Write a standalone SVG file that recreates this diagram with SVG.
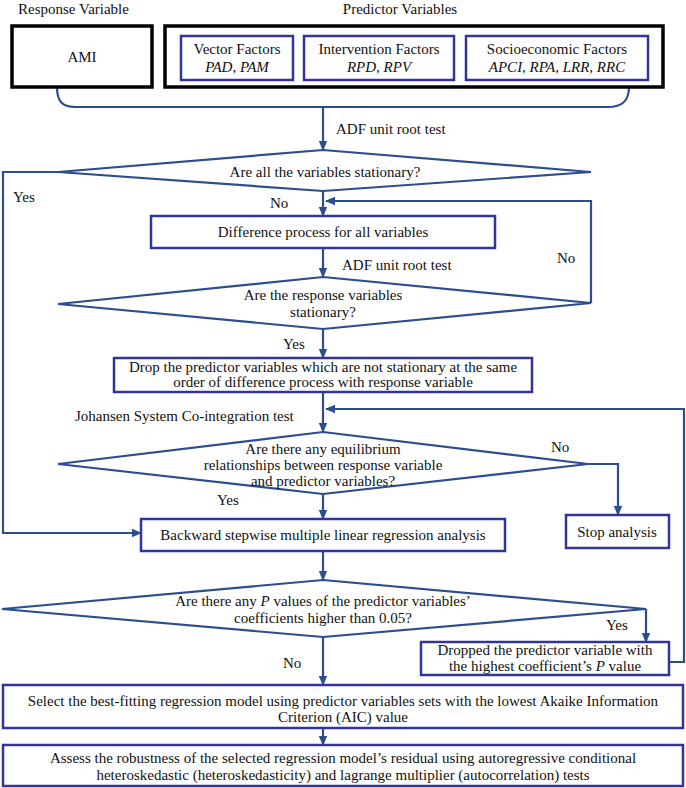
<svg xmlns="http://www.w3.org/2000/svg" width="686" height="788" viewBox="0 0 686 788" font-family="'Liberation Serif', 'Times New Roman', 'DejaVu Serif', serif">
<style>
text{font-family:'Liberation Serif','Times New Roman','DejaVu Serif',serif;font-size:15px;fill:#111;}
.c{text-anchor:middle;}
.it{font-style:italic;}
.outer{fill:#fff;stroke:#000;stroke-width:3.5;}
.box{fill:#fff;stroke:#33349a;stroke-width:2.5;}
.dia{fill:#fff;stroke:#2c4e8e;stroke-width:2.2;}
.ln{fill:none;stroke:#2c4e8e;stroke-width:2.2;}
</style>
<defs>
<marker id="ah" markerUnits="userSpaceOnUse" markerWidth="10" markerHeight="10" refX="9" refY="5" orient="auto">
<path d="M0,0.8 L10,5 L0,9.2 Z" fill="#2c4e8e"/>
</marker>
</defs>
<rect width="686" height="788" fill="#fff"/>

<text x="18" y="14">Response Variable</text>
<text x="400" y="14" class="c">Predictor Variables</text>

<g id="connectors">
<path class="ln" d="M57,87 C57,101 62,107 75,107 L608,107 C622,107 629,101 629,87"/>
<path class="ln" d="M323,107 L323,150" marker-end="url(#ah)"/>
<path class="ln" d="M323,191 L323,216" marker-end="url(#ah)"/>
<path class="ln" d="M591,303 L591,201 L326,201" marker-end="url(#ah)"/>
<path class="ln" d="M323,248 L323,277" marker-end="url(#ah)"/>
<path class="ln" d="M323,329 L323,358" marker-end="url(#ah)"/>
<path class="ln" d="M323,392 L323,432" marker-end="url(#ah)"/>
<path class="ln" d="M58,172 L3,172 L3,533 L141,533" marker-end="url(#ah)"/>
<path class="ln" d="M588,464 L618,464 L618,515" marker-end="url(#ah)"/>
<path class="ln" d="M323,494 L323,519" marker-end="url(#ah)"/>
<path class="ln" d="M323,551 L323,580" marker-end="url(#ah)"/>
<path class="ln" d="M646,609 L646,642" marker-end="url(#ah)"/>
<path class="ln" d="M669,662 L684,662 L684,409 L326,409" marker-end="url(#ah)"/>
<path class="ln" d="M323,637 L323,685" marker-end="url(#ah)"/>
<path class="ln" d="M323,728 L323,745" marker-end="url(#ah)"/>
<text x="336" y="134">ADF unit root test</text>
<text x="13" y="202">Yes</text>
<text x="270" y="208">No</text>
<text x="557" y="263">No</text>
<text x="342" y="270">ADF unit root test</text>
<text x="283" y="349">Yes</text>
<text x="75" y="421">Johansen System Co-integration test</text>
<text x="551" y="452">No</text>
<text x="217" y="505">Yes</text>
<text x="606" y="630">Yes</text>
<text x="283" y="668">No</text>
</g>

<g id="ami">
<rect class="outer" x="12" y="26" width="140" height="61"/>
<text x="82" y="62" class="c">AMI</text>
</g>

<g id="predictors">
<rect class="outer" x="165" y="26" width="498" height="61"/>
</g>

<g id="vector">
<rect class="box" x="181" y="36" width="112" height="44"/>
<text x="237" y="54" class="c">Vector Factors</text>
<text x="237" y="72" class="c it">PAD, PAM</text>
</g>

<g id="intervention">
<rect class="box" x="304" y="36" width="150" height="44"/>
<text x="379" y="54" class="c">Intervention Factors</text>
<text x="379" y="72" class="c it">RPD, RPV</text>
</g>

<g id="socio">
<rect class="box" x="466" y="36" width="182" height="44"/>
<text x="557" y="54" class="c">Socioeconomic Factors</text>
<text x="557" y="72" class="c it">APCI, RPA, LRR, RRC</text>
</g>

<g id="d1">
<polygon class="dia" points="323,150 591,172 323,191 58,172"/>
<text x="325" y="177" class="c">Are all the variables stationary?</text>
</g>

<g id="diff">
<rect class="box" x="151" y="216" width="344" height="32"/>
<text x="323" y="237" class="c">Difference process for all variables</text>
</g>

<g id="d2">
<polygon class="dia" points="323,277 591,303 323,329 58,304"/>
<text x="323" y="300" class="c">Are the response variables</text>
<text x="323" y="317" class="c">stationary?</text>
</g>

<g id="drop">
<rect class="box" x="114" y="358" width="418" height="34"/>
<text x="323" y="372" class="c">Drop the predictor variables which are not stationary at the same</text>
<text x="323" y="387" class="c">order of difference process with response variable</text>
</g>

<g id="d3">
<polygon class="dia" points="323,432 588,464 323,494 58,464"/>
<text x="323" y="454" class="c">Are there any equilibrium</text>
<text x="323" y="470" class="c">relationships between response variable</text>
<text x="323" y="486" class="c">and predictor variables?</text>
</g>

<g id="stop">
<rect class="box" x="566" y="515" width="103" height="33"/>
<text x="617" y="537" class="c">Stop analysis</text>
</g>

<g id="backward">
<rect class="box" x="141" y="519" width="364" height="32"/>
<text x="323" y="540" class="c">Backward stepwise multiple linear regression analysis</text>
</g>

<g id="d4">
<polygon class="dia" points="323,580 646,609 323,637 2,609"/>
<text x="323" y="606" class="c">Are there any <tspan class="it">P</tspan> values of the predictor variables’</text>
<text x="323" y="623" class="c">coefficients higher than 0.05?</text>
</g>

<g id="dropped">
<rect class="box" x="421" y="642" width="248" height="33"/>
<text x="545" y="655" class="c">Dropped the predictor variable with</text>
<text x="545" y="671" class="c">the highest coefficient’s <tspan class="it">P</tspan> value</text>
</g>

<g id="select">
<rect class="box" x="3" y="685" width="680" height="43"/>
<text x="343" y="706" class="c">Select the best-fitting regression model using predictor variables sets with the lowest Akaike Information</text>
<text x="343" y="722" class="c">Criterion (AIC) value</text>
</g>

<g id="assess">
<rect class="box" x="3" y="745" width="680" height="41"/>
<text x="343" y="763" class="c">Assess the robustness of the selected regression model’s residual using autoregressive conditional</text>
<text x="343" y="780" class="c">heteroskedastic (heteroskedasticity) and  lagrange multiplier (autocorrelation) tests</text>
</g>
</svg>
